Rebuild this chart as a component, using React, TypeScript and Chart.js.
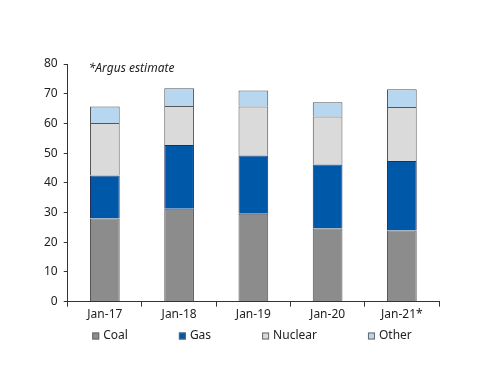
import React, { useEffect, useRef } from "react";
import { Chart, registerables } from "chart.js";

Chart.register(...registerables);

const categories = ["Jan-17", "Jan-18", "Jan-19", "Jan-20", "Jan-21*"];
const coal = [28.0, 31.3, 29.6, 24.6, 23.9];
const gas = [14.5, 21.4, 19.6, 21.6, 23.4];
const nuclear = [17.6, 13.2, 16.5, 16.1, 18.2];
const other = [5.6, 5.9, 5.4, 4.8, 6.0];
const yTicks = [0, 10, 20, 30, 40, 50, 60, 70, 80];
const note = "*Argus estimate";

const FONT = "'Noto Sans', sans-serif";

const customLegend = {
  id: "customLegend",
  afterDraw(chart: any) {
    const ctx = chart.ctx;
    const items = chart.data.datasets.map((d: any) => ({ label: d.label, color: d.backgroundColor }));
    ctx.save();
    ctx.font = `12px ${FONT}`;
    const box = 7;
    const gapText = 4;
    const spacing = 51;
    const widths = items.map((it: any) => box + gapText + ctx.measureText(it.label).width);
    const total = widths.reduce((a: number, b: number) => a + b, 0) + spacing * (items.length - 1);
    let x = chart.width / 2 - total / 2 + 2;
    const y = 328;
    items.forEach((it: any, i: number) => {
      ctx.fillStyle = it.color;
      ctx.fillRect(x, y - box / 2, box, box);
      ctx.strokeStyle = "#666";
      ctx.lineWidth = 1;
      ctx.strokeRect(x + 0.5, y - box / 2 + 0.5, box - 1, box - 1);
      ctx.fillStyle = "#222";
      ctx.textBaseline = "middle";
      ctx.textAlign = "left";
      ctx.fillText(it.label, x + box + gapText, y);
      x += widths[i] + spacing;
    });
    ctx.restore();
  },
};

const notePlugin = {
  id: "notePlugin",
  afterDraw(chart: any) {
    const ctx = chart.ctx;
    const area = chart.chartArea;
    ctx.save();
    ctx.font = `italic 12px ${FONT}`;
    ctx.fillStyle = "#222";
    ctx.textBaseline = "middle";
    ctx.textAlign = "left";
    ctx.fillText(note, area.left + 21, area.top + 5);
    ctx.restore();
  },
};

export default function App() {
  const ref = useRef<HTMLCanvasElement>(null);
  useEffect(() => {
    if (!ref.current) return;
    const border = "#555";
    const chart = new Chart(ref.current, {
      type: "bar",
      data: {
        labels: categories,
        datasets: [
          { label: "Coal", data: coal, backgroundColor: "#8c8c8c", borderColor: border, borderWidth: 1 },
          { label: "Gas", data: gas, backgroundColor: "#0058a9", borderColor: "#1f2f5a", borderWidth: 1 },
          { label: "Nuclear", data: nuclear, backgroundColor: "#dadada", borderColor: border, borderWidth: 1 },
          { label: "Other", data: other, backgroundColor: "#b7d7f0", borderColor: border, borderWidth: 1 },
        ],
      },
      options: {
        responsive: false,
        animation: false,
        layout: { padding: { left: 30, right: 53, top: 56, bottom: 55 } },
        plugins: { legend: { display: false }, tooltip: { enabled: false } },
        datasets: { bar: { categoryPercentage: 1, barPercentage: 0.4 } },
        scales: {
          x: {
            stacked: true,
            grid: { display: true, offset: true, drawOnChartArea: false, tickLength: 5, color: "#333", lineWidth: 1 },
            border: { display: true, color: "#333", width: 1 },
            ticks: { color: "#222", font: { family: FONT, size: 12 }, padding: 1, maxRotation: 0 },
          },
          y: {
            stacked: true,
            min: 0,
            max: 80,
            afterBuildTicks: (axis: any) => {
              axis.ticks = yTicks.map((v) => ({ value: v }));
            },
            grid: { display: true, drawOnChartArea: false, tickLength: 4, color: "#333", lineWidth: 1 },
            border: { display: true, color: "#333", width: 1 },
            ticks: { color: "#222", font: { family: FONT, size: 12 }, padding: 6 },
          },
        },
      },
      plugins: [customLegend, notePlugin],
    });
    return () => chart.destroy();
  }, []);
  return (
    <div style={{ width: 484, height: 370 }}>
      <canvas ref={ref} width={484} height={370} />
    </div>
  );
}
